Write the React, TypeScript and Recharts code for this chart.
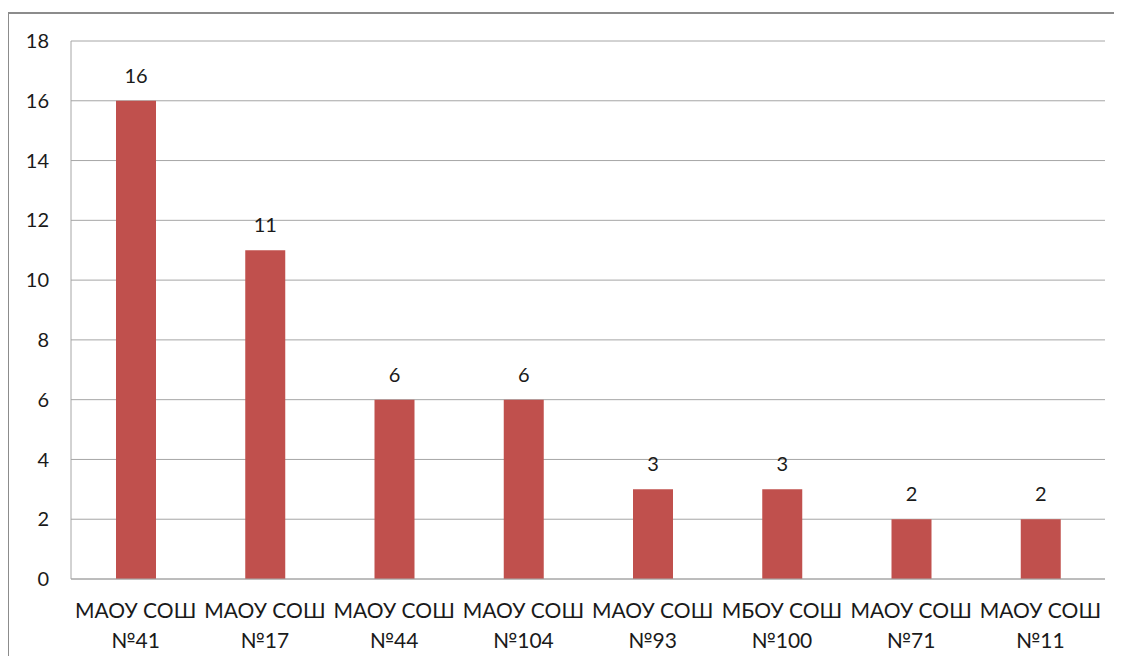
import React from 'react';
import { BarChart, Bar, XAxis, YAxis, CartesianGrid, LabelList } from 'recharts';

const schools = ['МАОУ СОШ №41', 'МАОУ СОШ №17', 'МАОУ СОШ №44', 'МАОУ СОШ №104', 'МАОУ СОШ №93', 'МБОУ СОШ №100', 'МАОУ СОШ №71', 'МАОУ СОШ №11'];
const counts = [16, 11, 6, 6, 3, 3, 2, 2];
const yTicks = [0, 2, 4, 6, 8, 10, 12, 14, 16, 18];

const data = schools.map((name, i) => ({ name, value: counts[i] }));

const FONT = 'Lato, Open Sans, sans-serif';

const XTick = (props: any) => {
  const { x, y, payload } = props;
  const s: string = payload.value;
  const idx = s.indexOf('№');
  const l1 = s.slice(0, idx).trim();
  const l2 = s.slice(idx);
  return (
    <g transform={`translate(${x},${y})`}>
      <text textAnchor="middle" fill="#1a1a1a" fontSize={21} fontFamily={FONT}>
        <tspan x={0} dy={31}>{l1}</tspan>
        <tspan x={0} dy={30}>{l2}</tspan>
      </text>
    </g>
  );
};

export default function App() {
  return (
    <div style={{ position: 'relative', width: 1114, height: 648, overflow: 'hidden' }}>
      <div style={{ position: 'absolute', left: -1, top: 4, width: 1130, height: 670, border: '2px solid #8c8c8c', boxSizing: 'border-box' }} />
      <div style={{ position: 'absolute', left: 0, top: 0 }}>
        <BarChart width={1114} height={656} data={data} margin={{ top: 33, right: 17, bottom: 25, left: 0 }} barSize={40}>
          <CartesianGrid vertical={false} stroke="#a6a6a6" strokeWidth={1} />
          <XAxis dataKey="name" tick={<XTick />} tickLine={false} axisLine={{ stroke: '#a6a6a6' }} height={60} interval={0} />
          <YAxis domain={[0, 18]} ticks={yTicks} tickLine={false} axisLine={{ stroke: '#a6a6a6' }} width={63}
            tick={{ fill: '#1a1a1a', fontSize: 20, fontFamily: FONT, dx: -14 }} />
          <Bar dataKey="value" fill="#c0504d" isAnimationActive={false}>
            <LabelList dataKey="value" position="top" offset={18} fill="#1a1a1a" fontSize={20} fontFamily={FONT} />
          </Bar>
        </BarChart>
      </div>
    </div>
  );
}
